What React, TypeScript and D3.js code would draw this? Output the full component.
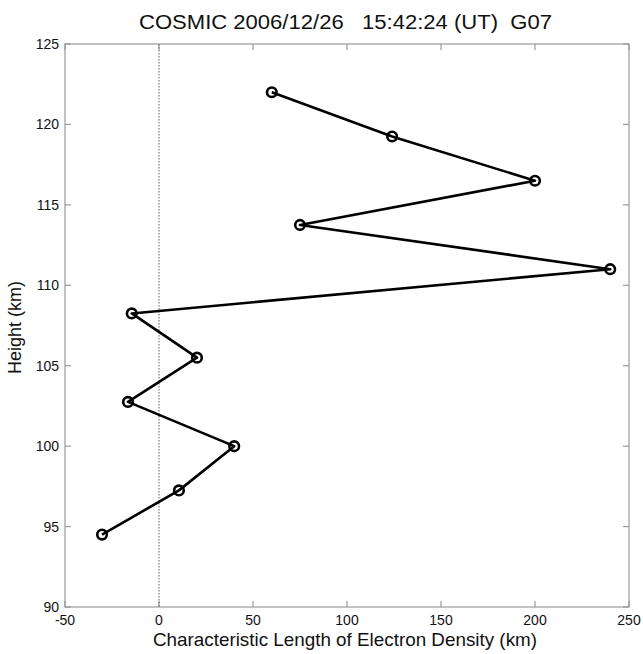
import React from "react";
import * as d3 from "d3";

const lengths = [60, 124, 200, 75, 240, -14.5, 20.2, -16.5, 40, 10.6, -30.3];
const heights = [122, 119.25, 116.5, 113.75, 111, 108.25, 105.5, 102.75, 100, 97.25, 94.5];
const xTicks = [-50, 0, 50, 100, 150, 200, 250];
const yTicks = [90, 95, 100, 105, 110, 115, 120, 125];
const title = "COSMIC 2006/12/26   15:42:24 (UT)  G07";
const xLabel = "Characteristic Length of Electron Density (km)";
const yLabel = "Height (km)";

export default function App() {
  const W = 643, H = 654;
  const L = 65, R = 629, T = 44, B = 607;
  const x = d3.scaleLinear().domain([-50, 250]).range([L, R]);
  const y = d3.scaleLinear().domain([90, 125]).range([B, T]);
  const line = d3.line<number>().x((_, i) => x(lengths[i])).y((_, i) => y(heights[i]));
  const font = "'Liberation Sans', Arial, Helvetica, sans-serif";
  const axisColor = "#999";
  const tk = 6;
  return (
    <svg width={W} height={H} style={{ position: "absolute", left: 0, top: 0, background: "#fff" }} fontFamily={font}>
      <rect x={L} y={T} width={R - L} height={B - T} fill="none" stroke={axisColor} strokeWidth={1.2} />
      {xTicks.map((t) => (
        <g key={"x" + t}>
          <line x1={x(t)} x2={x(t)} y1={B} y2={B - tk} stroke={axisColor} strokeWidth={1.2} />
          <line x1={x(t)} x2={x(t)} y1={T} y2={T + tk} stroke={axisColor} strokeWidth={1.2} />
          <text x={x(t)} y={B + 18} textAnchor="middle" fontSize={14} fill="#111">{t}</text>
        </g>
      ))}
      {yTicks.map((t) => (
        <g key={"y" + t}>
          <line x1={L} x2={L + tk} y1={y(t)} y2={y(t)} stroke={axisColor} strokeWidth={1.2} />
          <line x1={R} x2={R - tk} y1={y(t)} y2={y(t)} stroke={axisColor} strokeWidth={1.2} />
          <text x={L - 6} y={y(t) + 5} textAnchor="end" fontSize={14} fill="#111">{t}</text>
        </g>
      ))}
      <line x1={x(0)} x2={x(0)} y1={T} y2={B} stroke="#777" strokeWidth={1.2} strokeDasharray="1.5,1.5" />
      <path d={line(lengths) || ""} fill="none" stroke="#000" strokeWidth={2.6} strokeLinejoin="round" />
      {lengths.map((v, i) => (
        <circle key={i} cx={x(v)} cy={y(heights[i])} r={4.8} fill="none" stroke="#000" strokeWidth={2.6} />
      ))}
      <text x={345.5} y={29} textAnchor="middle" fontSize={20} fill="#111" textLength={413} lengthAdjust="spacingAndGlyphs" style={{ whiteSpace: "pre" }}>{title}</text>
      <text x={345} y={646} textAnchor="middle" fontSize={18.5} fill="#111" textLength={384} lengthAdjust="spacingAndGlyphs">{xLabel}</text>
      <text transform={`translate(21, 327.5) rotate(-90)`} textAnchor="middle" fontSize={18} fill="#111">{yLabel}</text>
    </svg>
  );
}
